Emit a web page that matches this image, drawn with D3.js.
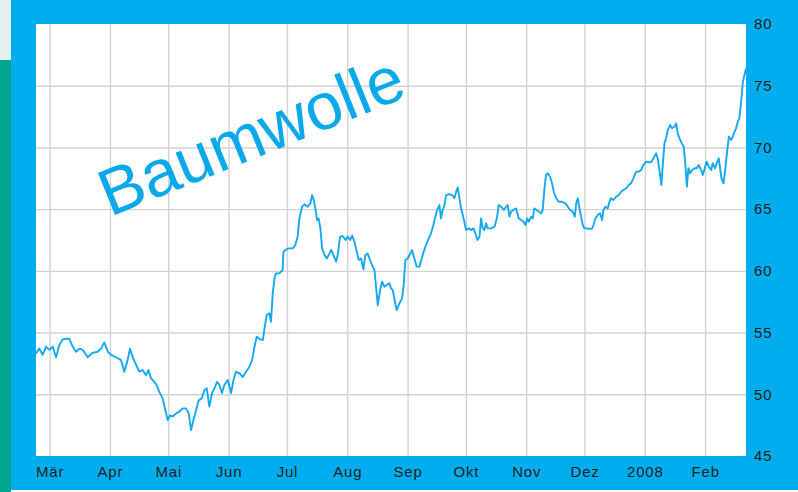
<!DOCTYPE html>
<html>
<head>
<meta charset="utf-8">
<script src="https://cdn.jsdelivr.net/npm/d3@7"></script>
<style>
  body { margin: 0; background: #fff; }
  svg { display: block; font-family: "Liberation Sans", Arial, sans-serif; }
</style>
</head>
<body>
<script>
// Baumwolle (cotton), one year: day offset from 22.02.2007 -> price
const startDate = Date.UTC(2007, 1, 22);
const endDate = Date.UTC(2008, 1, 22);

const quotes = [
  [0,53.3],[1.7,53.7],[3.4,53.2],[5.1,53.85],[6.9,53.6],[8.6,53.85],[10.3,53.0],[12.0,54.0],[13.7,54.45],[15.4,54.5],
  [17.1,54.5],[18.9,53.85],[20.6,53.45],[22.3,53.7],[24.0,53.6],[26.6,53.0],[29.1,53.36],[31.7,53.45],[33.4,53.7],[35.1,54.2],
  [36.9,53.45],[38.6,53.2],[41.1,53.0],[43.7,52.77],[45.4,51.83],[47.1,52.77],[48.3,53.7],[49.7,53.0],[51.4,52.4],[53.1,51.83],
  [54.8,51.96],[56.6,51.55],[57.8,51.96],[59.1,51.3],[60.8,51.0],[62.0,50.75],[63.4,50.2],[65.1,49.67],[66.5,48.7],[67.7,47.9],
  [68.9,48.3],[70.3,48.2],[72.0,48.45],[73.7,48.6],[75.4,48.86],[77.1,48.86],[78.5,48.45],[79.7,47.1],[80.9,47.9],[82.3,48.7],
  [83.6,49.5],[85.2,49.67],[86.6,50.35],[87.8,50.48],[89.1,49.0],[90.5,50.1],[91.7,50.48],[93.1,51.0],[94.3,50.75],[95.6,50.1],
  [96.8,50.75],[98.6,51.15],[100.3,50.1],[101.5,51.15],[102.8,51.83],[104.6,51.7],[106.3,51.4],[108.0,51.83],[109.7,52.23],[111.1,52.77],
  [112.3,53.85],[113.5,54.66],[115.2,54.45],[116.6,54.4],[117.6,55.47],[118.6,56.42],[120.0,56.56],[120.8,55.88],[121.7,58.18],[122.7,59.5],
  [123.4,59.8],[125.1,59.8],[126.8,60.07],[127.2,61.55],[129.4,61.82],[132.0,61.82],[133.3,62.1],[134.5,62.77],[135.4,64.25],[136.8,65.2],
  [138.0,65.39],[139.7,65.2],[141.1,65.47],[141.9,66.14],[142.8,65.74],[143.6,65.06],[144.5,64.12],[145.3,64.25],[146.2,63.44],[147.1,61.82],
  [148.3,61.28],[149.5,61.0],[150.8,61.4],[151.7,61.7],[152.9,61.28],[154.3,60.74],[155.1,61.28],[156.3,62.77],[157.7,62.82],[159.1,62.5],
  [160.3,62.77],[161.5,62.5],[162.5,62.85],[163.7,62.36],[164.5,61.82],[165.9,60.88],[167.1,61.0],[168.3,60.12],[169.3,61.28],[170.5,61.4],
  [171.7,60.88],[173.1,60.34],[174.0,60.07],[174.8,58.72],[175.7,57.23],[176.9,58.45],[177.9,59.12],[179.1,58.72],[180.3,58.85],[181.7,58.99],
  [182.5,58.58],[183.4,58.45],[184.2,57.77],[185.4,56.82],[186.8,57.36],[188.2,57.77],[189.0,58.85],[189.9,60.88],[191.1,61.0],[192.0,61.28],
  [193.3,61.69],[194.5,61.0],[195.7,60.34],[197.1,60.34],[198.3,61.0],[199.3,61.55],[200.5,62.1],[201.9,62.63],[203.1,63.04],[204.3,63.71],
  [205.3,64.39],[206.2,64.93],[207.4,65.33],[208.2,64.25],[209.1,64.93],[210.0,65.33],[210.8,66.14],[212.2,66.22],[213.9,66.14],[215.1,65.88],
  [216.0,66.41],[216.8,66.77],[217.7,65.88],[218.5,65.06],[219.4,64.52],[220.2,63.98],[221.1,63.31],[222.5,63.44],[223.7,63.31],[224.9,63.44],
  [225.9,63.04],[226.9,62.5],[228.0,62.77],[228.8,64.25],[229.7,63.44],[230.5,63.31],[231.4,63.85],[232.2,63.44],[233.9,63.44],[235.7,63.58],
  [236.9,64.25],[237.9,65.33],[239.1,65.2],[240.5,64.93],[241.7,65.2],[242.5,65.33],[243.4,64.39],[244.2,64.79],[245.4,64.93],
  [246.8,65.06],[248.2,64.25],[249.4,64.12],[250.6,63.98],[251.6,63.71],[252.5,64.25],[253.3,63.98],[254.5,64.39],[255.4,64.25],[256.2,65.06],
  [257.4,64.93],[258.5,64.79],[259.7,64.66],[260.5,64.93],[261.4,66.69],[262.2,67.77],[263.1,67.9],[264.3,67.63],[265.3,67.09],[266.2,66.41],
  [267.4,65.88],[268.7,65.6],[270.5,65.6],[272.2,65.47],[273.4,65.2],[274.6,64.93],[275.9,64.79],[277.0,64.39],[277.7,65.47],[278.5,65.88],
  [279.4,65.06],[280.2,64.39],[281.1,63.71],[281.9,63.44],[283.1,63.44],[284.5,63.4],[285.7,63.4],[286.6,63.71],[287.6,64.25],[288.8,64.52],
  [290.0,64.66],[291.0,64.12],[291.7,64.93],[292.7,65.2],[293.9,65.06],[294.8,65.6],[295.6,65.88],[296.8,65.74],[298.2,66.0],[299.6,66.14],
  [300.8,66.41],[302.0,66.55],[303.4,66.69],[304.7,66.96],[305.9,67.09],[307.1,67.5],[308.5,68.04],[309.9,68.04],[311.1,68.17],[312.3,68.58],
  [313.6,68.85],[315.0,68.8],[316.2,68.8],[317.4,69.12],[318.8,69.52],[319.6,69.12],[320.5,68.17],[321.5,66.96],[322.2,68.58],[323.1,70.33],
  [323.9,70.74],[324.8,71.41],[326.0,71.82],[327.0,71.55],[328.2,71.68],[329.1,71.95],[329.9,71.14],[330.8,70.74],[332.0,70.33],[333.0,70.06],
  [333.9,68.44],[334.6,66.82],[335.4,68.31],[336.3,67.9],[337.3,68.17],[338.5,68.31],[339.7,68.31],[340.7,68.58],[341.9,68.17],[342.8,67.77],
  [343.8,68.31],[344.8,68.85],[345.9,68.44],[347.1,68.17],[347.9,68.72],[349.1,68.31],[350.2,68.85],[351.0,69.12],[351.7,68.31],[352.4,67.5],
  [353.4,67.09],[354.3,68.17],[355.1,69.39],[356.2,70.87],[357.4,70.6],[358.2,70.87],[359.1,71.27],[359.9,71.55],[360.8,72.09],[361.6,72.36],
  [362.5,73.7],[363.4,75.32],[364.2,75.87],[365.0,76.4]
];

const monthStarts = [
  [2007,2],[2007,3],[2007,4],[2007,5],[2007,6],[2007,7],
  [2007,8],[2007,9],[2007,10],[2007,11],[2008,0],[2008,1]
];
const monthLabels = ["Mär","Apr","Mai","Jun","Jul","Aug","Sep","Okt","Nov","Dez","2008","Feb"];
const yTicks = [45, 50, 55, 60, 65, 70, 75, 80];
const yGrid = [50, 55, 60, 65, 70, 75];

const width = 798, height = 492;
const plot = { left: 36, top: 24, right: 746, bottom: 456 };
const blue = "#00aeef";

const data = quotes.map(d => ({ date: new Date(startDate + d[0] * 864e5), value: d[1] }));
const monthDates = monthStarts.map(d => new Date(Date.UTC(d[0], d[1], 1)));

const x = d3.scaleUtc().domain([new Date(startDate), new Date(endDate)]).range([plot.left, plot.right]);
const y = d3.scaleLinear().domain([45, 80]).range([plot.bottom, plot.top]);

const svg = d3.select('body').append('svg')
    .attr('width', width).attr('height', height);

// strip of the neighbouring window on the left
svg.append('rect').attr('x', 0).attr('y', 0).attr('width', 11).attr('height', 60).attr('fill', '#e3f1f0');
svg.append('rect').attr('x', 0).attr('y', 60).attr('width', 11).attr('height', height - 60).attr('fill', '#00a58d');

svg.append('rect').attr('x', 11).attr('y', 0).attr('width', width - 11).attr('height', 490).attr('fill', blue);
svg.append('rect')
    .attr('x', plot.left).attr('y', plot.top)
    .attr('width', plot.right - plot.left).attr('height', plot.bottom - plot.top)
    .attr('fill', '#fff');

// grid
const gx = svg.append('g')
    .attr('transform', `translate(0,${plot.bottom})`)
    .call(d3.axisBottom(x).tickValues(monthDates).tickSize(-(plot.bottom - plot.top)).tickFormat(''));
const gy = svg.append('g')
    .attr('transform', `translate(${plot.left},0)`)
    .call(d3.axisLeft(y).tickValues(yGrid).tickSize(-(plot.right - plot.left)).tickFormat(''));
[gx, gy].forEach(g => {
  g.select('.domain').remove();
  g.selectAll('line').attr('stroke', '#d2d2d2').attr('stroke-width', 1.4);
});

// title
svg.append('text')
    .attr('transform', 'translate(110,217) rotate(-22)')
    .attr('font-size', 66)
    .attr('fill', '#0ba9ea')
    .text('Baumwolle');

// price line
svg.append('clipPath').attr('id', 'clip')
  .append('rect')
    .attr('x', plot.left).attr('y', plot.top)
    .attr('width', plot.right - plot.left).attr('height', plot.bottom - plot.top);

const line = d3.line().x(d => x(d.date)).y(d => y(d.value));
svg.append('path')
    .datum(data)
    .attr('clip-path', 'url(#clip)')
    .attr('fill', 'none')
    .attr('stroke', '#14a8ec')
    .attr('stroke-width', 1.9)
    .attr('stroke-linejoin', 'round')
    .attr('d', line);

// axis labels
const ax = svg.append('g')
    .attr('transform', `translate(0,${plot.bottom})`)
    .call(d3.axisBottom(x).tickValues(monthDates).tickSize(0).tickPadding(10)
      .tickFormat((d, i) => monthLabels[i]));
const ay = svg.append('g')
    .attr('transform', `translate(${plot.right},0)`)
    .call(d3.axisRight(y).tickValues(yTicks).tickSize(0).tickPadding(8));
[ax, ay].forEach(g => {
  g.select('.domain').remove();
  g.selectAll('text')
    .attr('fill', '#1e1e1e')
    .attr('font-size', 15)
    .attr('letter-spacing', '0.8px')
    .attr('font-family', '"Liberation Sans", Arial, sans-serif');
});
</script>
</body>
</html>
